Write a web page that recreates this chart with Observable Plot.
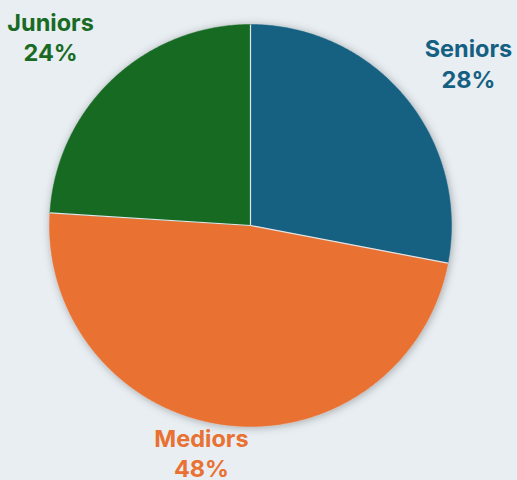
<!DOCTYPE html>
<html>
<head>
<meta charset="utf-8">
<script src="https://cdn.jsdelivr.net/npm/d3@7"></script>
<script src="https://cdn.jsdelivr.net/npm/@observablehq/plot@0.6"></script>
<style>
  html, body { margin: 0; padding: 0; background: #e8eef2; }
  #chart { width: 517px; height: 480px; }
</style>
</head>
<body>
<div id="chart"></div>
<script>
// Data
const categories = ["Seniors", "Mediors", "Juniors"];
const shares = [28, 48, 24];
const shareLabels = ["28%", "48%", "24%"];
const colors = ["#156082", "#E97132", "#196B24"];

// Layout (label placement in polar unit-circle coordinates: radius, angle in degrees from top)
const labelPlacement = [
  {r: 1.354, a: 53.2},
  {r: 1.155, a: 192.2},
  {r: 1.369, a: 313.4}
];

const arcs = d3.pie().sort(null).value(d => d)(shares);

// Slice outlines on a unit circle (y up), sampled along the arc
const slicePoints = [];
arcs.forEach((arc, i) => {
  const cat = categories[i];
  slicePoints.push({cat, x: 0, y: 0});
  const steps = Math.max(2, Math.ceil((arc.endAngle - arc.startAngle) / (Math.PI / 360)));
  for (let k = 0; k <= steps; k++) {
    const t = arc.startAngle + (arc.endAngle - arc.startAngle) * k / steps;
    slicePoints.push({cat, x: Math.sin(t), y: Math.cos(t)});
  }
  slicePoints.push({cat, x: 0, y: 0});
});

// radial separators at each slice boundary
const separators = arcs.map(a => ({x1: 0, y1: 0, x2: Math.sin(a.startAngle), y2: Math.cos(a.startAngle)}));

const labelData = categories.map((cat, i) => {
  const p = labelPlacement[i];
  const t = p.a * Math.PI / 180;
  return {cat, text: cat + "\n" + shareLabels[i], x: p.r * Math.sin(t), y: p.r * Math.cos(t)};
});

const R = 201, cx = 250, cy = 225;

const chart = Plot.plot({
  width: 517,
  height: 480,
  margin: 0,
  style: {background: "#e8eef2", overflow: "visible"},
  x: {domain: [-1, 1], range: [cx - R, cx + R], axis: null},
  y: {domain: [-1, 1], range: [cy + R, cy - R], axis: null},
  color: {domain: categories, range: colors},
  marks: [
    Plot.line(slicePoints, {
      x: "x", y: "y", z: "cat",
      fill: "cat",
      stroke: "cat",
      strokeWidth: 0.5,
      curve: "linear",
      className: "pie-slices"
    }),
    Plot.link(separators, {
      x1: "x1", y1: "y1", x2: "x2", y2: "y2",
      stroke: "#dfe6ea",
      strokeWidth: 1.2
    }),
    Plot.text(labelData, {
      x: "x", y: "y", text: "text",
      fill: "cat",
      fontSize: 23.5,
      fontWeight: 700,
      fontFamily: "Inter, Roboto, sans-serif",
      lineHeight: 1.3,
      textAnchor: "middle"
    })
  ]
});

// soft shadow around pie
const svg = d3.select(chart);
const defs = svg.insert("defs", ":first-child");
const f = defs.append("filter").attr("id", "pieShadow")
  .attr("x", "-20%").attr("y", "-20%").attr("width", "140%").attr("height", "140%");
f.append("feDropShadow").attr("dx", 1).attr("dy", 1).attr("stdDeviation", 4)
  .attr("flood-color", "#000").attr("flood-opacity", 0.3);
svg.select("g.pie-slices").attr("filter", "url(#pieShadow)");

document.getElementById("chart").appendChild(chart);
</script>
</body>
</html>
